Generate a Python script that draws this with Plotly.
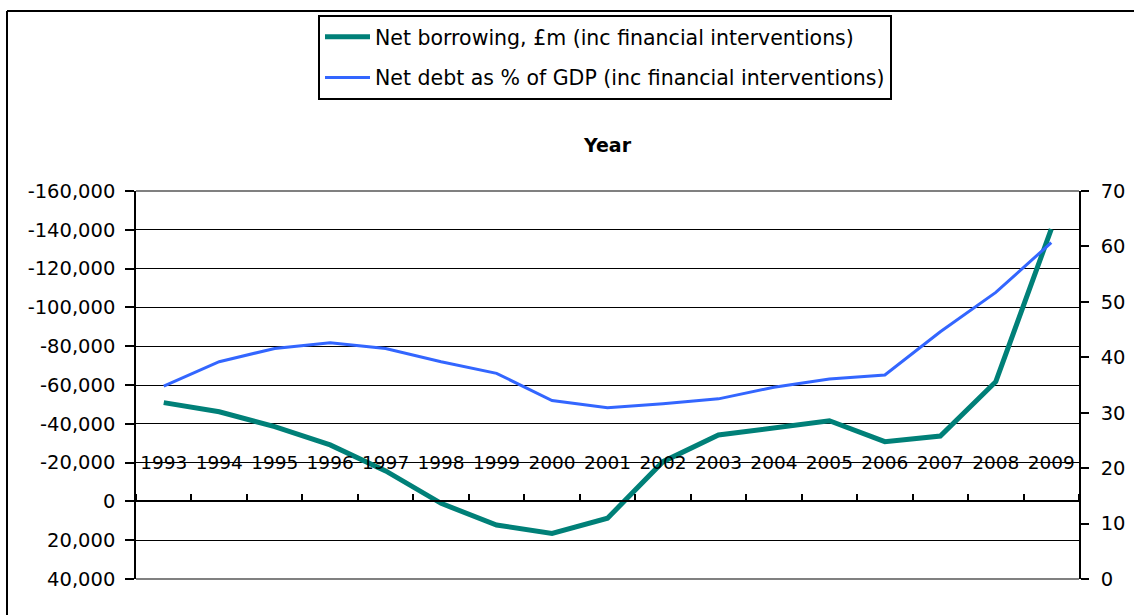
import plotly.graph_objects as go

years = ["1993", "1994", "1995", "1996", "1997", "1998", "1999", "2000", "2001",
         "2002", "2003", "2004", "2005", "2006", "2007", "2008", "2009"]
net_borrowing = [-50900, -46200, -38500, -29100, -15700, 1000, 12200, 16500, 8700,
                 -20500, -34200, -37700, -41600, -30800, -33700, -61700, -140300]
net_debt_pct = [34.8, 39.2, 41.6, 42.6, 41.6, 39.2, 37.1, 32.2, 30.9,
                31.6, 32.5, 34.6, 36.1, 36.8, 44.6, 51.7, 60.7]
left_tickvals = [-160000, -140000, -120000, -100000, -80000, -60000, -40000,
                 -20000, 0, 20000, 40000]
left_ticktext = ["-160,000", "-140,000", "-120,000", "-100,000", "-80,000", "-60,000",
                 "-40,000", "-20,000", "0", "20,000", "40,000"]
right_tickvals = [0, 10, 20, 30, 40, 50, 60, 70]

name1 = "Net borrowing, £m (inc financial interventions)"
name2 = "Net debt as % of GDP (inc financial interventions)"

W, H = 1134, 615
L, R, T, B = 136, 55, 191, 36
pw, ph = W - L - R, H - T - B

def px_x(p):
    return (p - L) / pw

def px_y(p):
    return (H - B - p) / ph

fig = go.Figure()
fig.add_trace(go.Scatter(x=years, y=net_borrowing, name=name1, mode="lines",
                         line=dict(color="#008078", width=5), yaxis="y",
                         legendgroup="a"))
fig.add_trace(go.Scatter(x=years, y=net_debt_pct, name=name2, mode="lines",
                         line=dict(color="#3366FF", width=3), yaxis="y2",
                         legendgroup="b"))

tick_font = dict(family="DejaVu Sans", size=19.5, color="black")
leg_font = dict(family="DejaVu Sans", size=20.5, color="black")

fig.update_layout(
    width=W, height=H,
    margin=dict(l=L, r=R, t=T, b=B, autoexpand=False),
    paper_bgcolor="white", plot_bgcolor="white",
    font=tick_font,
    title=dict(text="<b>Year</b>", x=607.5 / W, xref="container", xanchor="center",
               y=1 - 145 / H, yref="container", yanchor="middle",
               font=dict(family="DejaVu Sans", size=19, color="black")),
    legend=dict(xref="container", yref="container", x=605 / W, xanchor="center",
                y=1 - 15 / H, yanchor="top", bordercolor="black", borderwidth=2,
                bgcolor="white", font=leg_font, tracegroupgap=11, itemwidth=45,
                traceorder="grouped"),
    xaxis=dict(type="category", range=[-0.5, 16.5], anchor="free", position=0.2,
               side="top", showgrid=False, showline=True, linecolor="black",
               linewidth=1.5, ticks="outside", tickson="boundaries", ticklen=7,
               tickcolor="black", tickwidth=1.5, ticklabelstandoff=24, tickangle=0,
               automargin=False, zeroline=False, tickfont=dict(size=18.5)),
    yaxis=dict(range=[40000, -160000], tickvals=left_tickvals, ticktext=left_ticktext,
               showgrid=True, gridcolor="black", gridwidth=1, showline=True,
               linecolor="black", linewidth=1.5, ticks="outside", ticklen=9,
               tickcolor="black", tickwidth=1.5, ticklabelstandoff=6,
               zeroline=False, automargin=False),
    yaxis2=dict(range=[0, 70], tickvals=right_tickvals, overlaying="y", side="right",
                showgrid=False, showline=True, linecolor="black", linewidth=1.5,
                ticks="outside", ticklen=8, tickcolor="black", tickwidth=1.5,
                ticklabelstandoff=8, zeroline=False, automargin=False),
    showlegend=True,
)

# gray top/bottom plot edges
for yy in (0, 1):
    fig.add_shape(type="line", xref="paper", yref="paper", x0=0, x1=1, y0=yy, y1=yy,
                  line=dict(color="#808080", width=2), layer="above")
# outer chart border (cut off at right and bottom)
fig.add_shape(type="line", xref="paper", yref="paper", x0=px_x(7), x1=px_x(1140),
              y0=px_y(11), y1=px_y(11), line=dict(color="black", width=2))
fig.add_shape(type="line", xref="paper", yref="paper", x0=px_x(7), x1=px_x(7),
              y0=px_y(11), y1=px_y(620), line=dict(color="black", width=2))

fig.write_html("out.html", config={"displayModeBar": False},
               post_script="document.body.style.margin='0';")
